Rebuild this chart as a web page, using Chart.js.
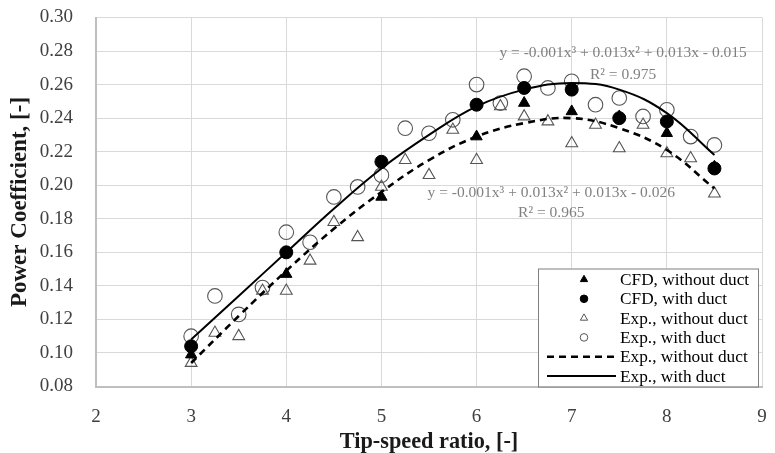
<!DOCTYPE html>
<html>
<head>
<meta charset="utf-8">
<script src="https://cdn.jsdelivr.net/npm/chart.js@4.4.1/dist/chart.umd.min.js"></script>
<style>
  html, body { margin: 0; padding: 0; background: #ffffff; }
  #wrap { width: 775px; height: 453px; position: relative; }
</style>
</head>
<body>
<div id="wrap"><canvas id="c" width="775" height="453"></canvas></div>
<script>
// ---- data ----
const expTsr = [3, 3.25, 3.5, 3.75, 4, 4.25, 4.5, 4.75, 5, 5.25, 5.5, 5.75, 6, 6.25, 6.5, 6.75, 7, 7.25, 7.5, 7.75, 8, 8.25, 8.5];
const expWithDuct = [0.110, 0.134, 0.123, 0.139, 0.172, 0.166, 0.193, 0.199, 0.206, 0.234, 0.231, 0.239, 0.260, 0.249, 0.265, 0.258, 0.262, 0.248, 0.252, 0.241, 0.245, 0.229, 0.224];
const expWithoutDuct = [0.094, 0.112, 0.110, 0.137, 0.137, 0.155, 0.178, 0.169, 0.199, 0.215, 0.206, 0.233, 0.215, 0.247, 0.241, 0.238, 0.225, 0.236, 0.222, 0.236, 0.219, 0.216, 0.195];

const cfdTsr = [3, 4, 5, 6, 6.5, 7, 7.5, 8, 8.5];
const cfdWithDuct = [0.104, 0.160, 0.214, 0.248, 0.258, 0.257, 0.240, 0.238, 0.210];
const cfdWithoutDuct = [0.099, 0.147, 0.193, 0.229, 0.249, 0.244, 0.241, 0.231, 0.211];

const trendTsr = [3, 3.5, 4, 4.5, 5, 5.5, 6, 6.5, 7, 7.5, 8, 8.5];
const trendWithDuct = [0.108, 0.134, 0.160, 0.186, 0.210, 0.230, 0.247, 0.257, 0.261, 0.257, 0.243, 0.218];
const trendWithoutDuct = [0.094, 0.122, 0.149, 0.174, 0.196, 0.215, 0.229, 0.237, 0.240, 0.234, 0.221, 0.198];

const xTicks = [2, 3, 4, 5, 6, 7, 8, 9];
const yTicks = [0.08, 0.10, 0.12, 0.14, 0.16, 0.18, 0.20, 0.22, 0.24, 0.26, 0.28, 0.30];

const seriesLabels = ['CFD, without duct', 'CFD, with duct', 'Exp., without duct', 'Exp., with duct', 'Exp., without duct', 'Exp., with duct'];
const equationTexts = [
  ['y = -0.001x\u00B3 + 0.013x\u00B2 + 0.013x - 0.015', 'R\u00B2 = 0.975'],
  ['y = -0.001x\u00B3 + 0.013x\u00B2 + 0.013x - 0.026', 'R\u00B2 = 0.965']
];

const pts = (xs, ys) => xs.map((x, i) => ({ x: x, y: ys[i] }));
const SERIF = '"Liberation Serif", "DejaVu Serif", serif';

const datasets = [
  { label: seriesLabels[0], data: pts(cfdTsr, cfdWithoutDuct), showLine: false,
    pointStyle: 'triangle', pointRadius: 6.5, backgroundColor: '#000', borderColor: '#000', borderWidth: 1, order: 1 },
  { label: seriesLabels[1], data: pts(cfdTsr, cfdWithDuct), showLine: false,
    pointStyle: 'circle', pointRadius: 6.5, backgroundColor: '#000', borderColor: '#000', borderWidth: 1, order: 1 },
  { label: seriesLabels[2], data: pts(expTsr, expWithoutDuct), showLine: false,
    pointStyle: 'triangle', pointRadius: 6.8, backgroundColor: 'rgba(0,0,0,0)', borderColor: '#555', borderWidth: 1.1, order: 3 },
  { label: seriesLabels[3], data: pts(expTsr, expWithDuct), showLine: false,
    pointStyle: 'circle', pointRadius: 7.3, backgroundColor: 'rgba(0,0,0,0)', borderColor: '#555', borderWidth: 1.1, order: 3 },
  { label: seriesLabels[4], data: pts(trendTsr, trendWithoutDuct), showLine: true, pointRadius: 0,
    borderColor: '#000', borderWidth: 2.6, borderDash: [7, 5], tension: 0.4, fill: false, order: 2 },
  { label: seriesLabels[5], data: pts(trendTsr, trendWithDuct), showLine: true, pointRadius: 0,
    borderColor: '#000', borderWidth: 2, tension: 0.4, fill: false, order: 2 }
];

const bgPlugin = {
  id: 'bg',
  beforeDraw(chart) {
    const ctx = chart.ctx;
    ctx.save();
    ctx.fillStyle = '#ffffff';
    ctx.fillRect(0, 0, chart.width, chart.height);
    ctx.restore();
  }
};

const annoPlugin = {
  id: 'anno',
  afterDatasetsDraw(chart) {
    const ctx = chart.ctx;
    const xs = chart.scales.x, ys = chart.scales.y;
    const spots = [
      [xs.getPixelForValue(7.54), ys.getPixelForValue(0.279), ys.getPixelForValue(0.2655)],
      [xs.getPixelForValue(6.785), ys.getPixelForValue(0.1955), ys.getPixelForValue(0.1835)]
    ];
    ctx.save();
    ctx.fillStyle = '#808080';
    ctx.font = '15.5px ' + SERIF;
    ctx.textAlign = 'center';
    ctx.textBaseline = 'middle';
    equationTexts.forEach((t, i) => {
      ctx.fillText(t[0], spots[i][0], spots[i][1]);
      ctx.fillText(t[1], spots[i][0], spots[i][2]);
    });
    ctx.restore();
  }
};

const legendPlugin = {
  id: 'customLegend',
  afterDraw(chart) {
    const ctx = chart.ctx;
    const ca = chart.chartArea;
    const w = 220, h = 118;
    const x0 = ca.right - 224, y0 = ca.bottom - h;
    ctx.save();
    ctx.fillStyle = '#ffffff';
    ctx.fillRect(x0, y0, w, h);
    ctx.strokeStyle = '#7f7f7f';
    ctx.lineWidth = 1;
    ctx.strokeRect(x0 + 0.5, y0 + 0.5, w, h);
    const mx = x0 + 46;
    const tx = x0 + 82;
    ctx.font = '17.3px ' + SERIF;
    ctx.textAlign = 'left';
    ctx.textBaseline = 'middle';
    chart.data.datasets.forEach((ds, i) => {
      const cy = y0 + 11 + i * 19.3;
      if (ds.showLine) {
        ctx.save();
        ctx.strokeStyle = ds.borderColor;
        ctx.lineWidth = ds.borderWidth;
        ctx.setLineDash(ds.borderDash || []);
        ctx.beginPath();
        ctx.moveTo(x0 + 9, cy);
        ctx.lineTo(x0 + 78, cy);
        ctx.stroke();
        ctx.restore();
      } else {
        ctx.save();
        ctx.fillStyle = ds.backgroundColor;
        ctx.strokeStyle = ds.borderColor;
        ctx.lineWidth = 1;
        Chart.helpers.drawPoint(ctx, { pointStyle: ds.pointStyle, radius: ds.pointStyle === 'triangle' ? 4.2 : 3.8, rotation: 0, borderWidth: 1 }, mx, cy);
        ctx.restore();
      }
      ctx.fillStyle = '#000';
      ctx.fillText(ds.label, tx, cy + 1);
    });
    ctx.restore();
  }
};

function noPad(scale) {
  scale.paddingTop = 0; scale.paddingBottom = 0; scale.paddingLeft = 0; scale.paddingRight = 0;
}

new Chart(document.getElementById('c'), {
  type: 'scatter',
  data: { datasets: datasets },
  plugins: [bgPlugin, annoPlugin, legendPlugin],
  options: {
    responsive: false,
    animation: false,
    devicePixelRatio: 1,
    layout: { padding: { top: 17.5, right: 13, left: 0, bottom: 0 } },
    plugins: { legend: { display: false }, tooltip: { enabled: false } },
    scales: {
      x: {
        type: 'linear', min: 2, max: 9,
        afterBuildTicks(scale) { scale.ticks = xTicks.map(v => ({ value: v })); },
        afterFit(scale) { scale.height = 66.5; noPad(scale); },
        grid: { color: '#d9d9d9', lineWidth: 1, drawTicks: false },
        border: { color: '#bfbfbf', width: 2 },
        ticks: { color: '#404040', padding: 19, font: { family: SERIF, size: 19 }, callback: v => String(v) },
        title: { display: true, text: 'Tip-speed ratio, [-]', color: '#1a1a1a',
                 font: { family: SERIF, size: 22.3, weight: 'bold', lineHeight: 1 }, padding: { top: 0, bottom: 0 } }
      },
      y: {
        type: 'linear', min: 0.08, max: 0.30,
        afterBuildTicks(scale) { scale.ticks = yTicks.map(v => ({ value: v })); },
        afterFit(scale) { scale.width = 96; noPad(scale); },
        grid: { color: '#d9d9d9', lineWidth: 1, drawTicks: false },
        border: { color: '#bfbfbf', width: 2 },
        ticks: { color: '#404040', padding: 23, font: { family: SERIF, size: 19 }, callback: v => v.toFixed(2) },
        title: { display: true, text: 'Power Coefficient, [-]', color: '#1a1a1a',
                 font: { family: SERIF, size: 23, weight: 'bold', lineHeight: 1 }, padding: { top: 8.5, bottom: 0 } }
      }
    }
  }
});
</script>
</body>
</html>
